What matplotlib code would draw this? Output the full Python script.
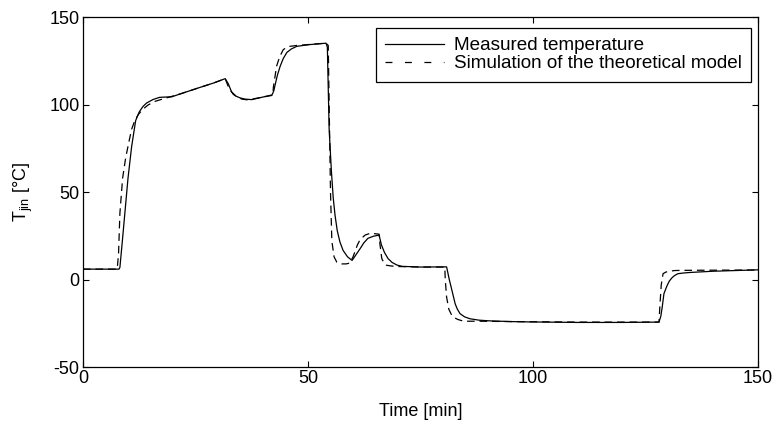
import matplotlib
matplotlib.use("Agg")
import matplotlib.pyplot as plt
from matplotlib.lines import Line2D

plt.rcParams['font.family'] = ['Liberation Sans', 'DejaVu Sans']
plt.rcParams['lines.scale_dashes'] = False
plt.rcParams['axes.unicode_minus'] = False

# Measured temperature (time [min], T_jin [°C])
t_meas = [0, 8.0, 8.2, 8.6, 9.3, 10.0, 10.8, 11.7, 12.5, 13.3, 14.1, 15.5, 17.0, 18.5, 19.7,
          22, 26, 29, 31.6, 32.3, 33.0, 34.0, 34.9, 36.0, 37.5, 39.5, 42.0, 42.4, 42.7, 43.2,
          43.8, 44.5, 45.3, 46.3, 47.5, 50.4, 54.0, 54.3, 54.7, 55.2, 55.6, 56.0, 56.5, 57.1,
          57.8, 58.8, 59.8, 60.6, 61.6, 62.4, 63.3, 64.5, 65.8, 66.3, 67.0, 67.8, 68.7, 69.8,
          70.9, 75, 80.8, 81.4, 82.0, 82.7, 83.2, 83.8, 84.8, 86.0, 88.0, 90.4, 95, 99, 110,
          120, 128.0, 128.4, 128.7, 129.1, 129.8, 130.3, 130.9, 131.5, 132.2, 133.5, 134.9,
          140, 150]
T_meas = [6, 6, 7, 18, 38, 58, 76, 91, 96, 99, 101, 103, 104.3, 104.5, 104.6,
          106.6, 110, 112.5, 115, 112, 107.5, 105, 104, 103.3, 103, 104.2, 105.7, 108, 111.5, 117,
          122, 126.5, 130, 132, 133.5, 134.5, 135.3, 133, 86, 62, 47, 37, 28, 21.5,
          16.7, 13, 11, 14, 17.8, 21, 23.6, 24.8, 25.5, 20, 15.5, 12, 9.8, 8.3,
          7.6, 7.2, 7.3, 0, -6.3, -13.8, -17, -19.5, -21.3, -22.4, -23.2, -23.6, -24, -24.2, -24.5,
          -24.5, -24.3, -21, -16, -8, -3.4, -0.8, 1.1, 2.4, 3.4, 3.8, 4.1,
          4.8, 5.6]

# Simulation of the theoretical model
t_sim = [0, 7.6, 7.9, 8.2, 8.8, 9.5, 10.3, 10.8, 11.5, 12.3, 13.3, 14.5, 16, 17.5, 19.0,
         22, 26, 29, 31.6, 32.2, 32.7, 33.4, 34.2, 35.3, 36.4, 38, 40, 42.2, 42.3, 42.6,
         43.0, 43.7, 44.5, 45.2, 46.0, 47.5, 50.4, 54.0, 54.5, 54.7, 55.0, 55.3, 55.8, 56.4,
         57.0, 57.5, 58.5, 59.3, 60.0, 61.0, 61.6, 62.7, 63.8, 64.8, 65.8, 66.0, 66.4, 67.0,
         67.5, 68.5, 70, 75, 80.4, 80.5, 80.8, 81.3, 82.0, 82.7, 83.3, 84.2, 85.5, 88, 95,
         110, 120, 128.0, 128.2, 128.5, 128.9, 129.5, 130.3, 131.5, 133, 140, 150]
T_sim = [6, 6, 15, 38, 58, 70, 80, 86, 91, 94.5, 97.5, 100, 102, 103.2, 104.3,
         106.6, 110, 112.5, 115, 111, 108.6, 106, 104.6, 103.3, 102.9, 103.5, 104.5, 105.5, 110, 115,
         122, 127.5, 131.6, 132.8, 133.5, 134, 134.6, 135.3, 134, 100, 50, 22, 13, 10,
         9.3, 9, 9, 9.5, 13, 20, 23, 25.5, 26.5, 26.3, 26, 20, 12, 9,
         8.2, 7.8, 7.5, 7.2, 7.2, 0, -10, -17, -20.7, -22, -22.8, -23.5, -23.8, -23.8, -24,
         -24.3, -24.3, -24.3, -15, -3, 3.4, 4.3, 4.8, 5.2, 5.3, 5.4, 5.5]

x_ticks = [0, 50, 100, 150]
y_ticks = [-50, 0, 50, 100, 150]
label_meas = "Measured temperature"
label_sim = "Simulation of the theoretical model"

fig = plt.figure(figsize=(7.77, 4.23), dpi=100)
ax = fig.add_axes([83/777, 1-367/423, 675/777, 349.5/423])

ax.plot(t_meas, T_meas, color='black', lw=0.9, solid_joinstyle='round')
ax.plot(t_sim, T_sim, color='black', lw=0.9, linestyle=(0, (5.5, 3.5)))

ax.set_xlim(0, 150)
ax.set_ylim(-50, 150)
ax.set_xticks(x_ticks)
ax.set_yticks(y_ticks)
ax.tick_params(direction='in', top=True, right=True, length=4, width=0.8,
               labelsize=13, pad=2.5)
for s in ax.spines.values():
    s.set_linewidth(0.9)

ax.set_xlabel("Time [min]", fontsize=13, labelpad=11)
ax.set_ylabel(r"T$_{\mathregular{jin}}$ [°C]", fontsize=13, labelpad=10)

h1 = Line2D([], [], color='black', lw=0.9)
h2 = Line2D([], [], color='black', lw=0.9, linestyle=(0, (5, 9)))
leg = ax.legend([h1, h2], [label_meas, label_sim], loc='upper right',
                bbox_to_anchor=((751-83)/675, (367-28)/349.5), borderaxespad=0,
                prop={'size': 13.6}, frameon=True, fancybox=False, edgecolor='black',
                framealpha=1, handlelength=3.1, handletextpad=0.55, borderpad=0.48,
                labelspacing=0.05)
leg.get_frame().set_linewidth(0.9)

fig.savefig("out.png", dpi=100)
